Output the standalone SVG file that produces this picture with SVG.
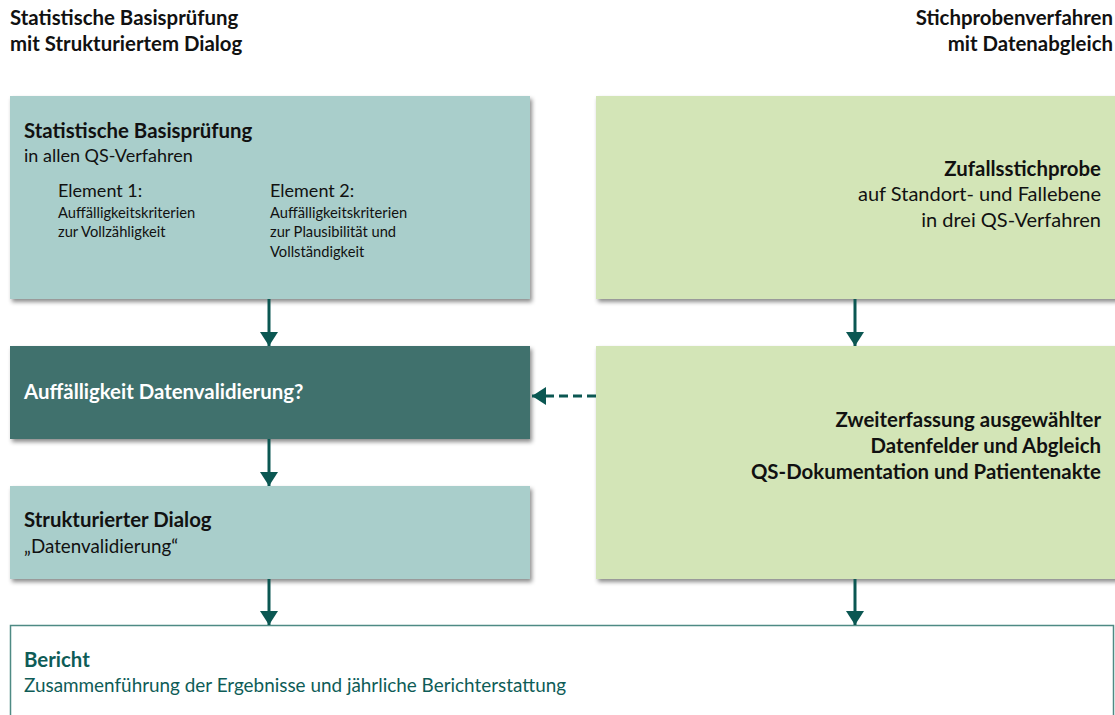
<svg xmlns="http://www.w3.org/2000/svg" width="1115" height="715" viewBox="0 0 1115 715">
  <style>
    text { font-family: Lato, "Liberation Sans", sans-serif; fill: #111; }
    .h { font-size: 20.4px; font-weight: bold; }
    .t { font-size: 20.4px; font-weight: bold; }
    .s { font-size: 18px; }
    .sd { font-size: 18.8px; }
    .sr { font-size: 20px; }
    .sb { font-size: 18.9px; }
    .e { font-size: 18px; }
    .e2 { font-size: 14.7px; }
    .r { text-anchor: end; }
    .w { fill: #fff; }
    .teal { fill: #0E5C57; }
    .light { fill: #A9CECB; }
    .dark { fill: #41716D; }
    .green { fill: #D3E5B7; }
    .conn { stroke: #0B5752; stroke-width: 3; fill: none; }
  </style>
  <defs>
    <filter id="shadow" x="-5%" y="-5%" width="112%" height="120%">
      <feDropShadow dx="2" dy="3" stdDeviation="2" flood-color="#000" flood-opacity="0.45"/>
    </filter>
    <marker id="ah" viewBox="0 0 14 18" refX="14" refY="9" markerWidth="14" markerHeight="18" markerUnits="userSpaceOnUse" orient="auto">
      <path d="M0,0 L14,9 L0,18 Z" fill="#0B5752"/>
    </marker>
  </defs>

  <!-- column headings -->
  <g id="heading-left">
    <text class="h" x="10" y="25">Statistische Basisprüfung</text>
    <text class="h" x="10" y="51">mit Strukturiertem Dialog</text>
  </g>
  <g id="heading-right">
    <text class="h r" x="1113" y="25">Stichprobenverfahren</text>
    <text class="h r" x="1113" y="51">mit Datenabgleich</text>
  </g>

  <!-- left column -->
  <g id="basispruefung">
    <rect class="light" x="10" y="96" width="520" height="203" filter="url(#shadow)"/>
    <text class="t" x="24" y="138">Statistische Basisprüfung</text>
    <text class="s" x="24" y="162">in allen QS-Verfahren</text>
    <text class="e" x="58" y="197">Element 1:</text>
    <text class="e2" x="58" y="218">Auffälligkeitskriterien</text>
    <text class="e2" x="58" y="237">zur Vollzähligkeit</text>
    <text class="e" x="270" y="197">Element 2:</text>
    <text class="e2" x="270" y="218">Auffälligkeitskriterien</text>
    <text class="e2" x="270" y="237">zur Plausibilität und</text>
    <text class="e2" x="270" y="257">Vollständigkeit</text>
  </g>
  <g id="auffaelligkeit">
    <rect class="dark" x="10" y="346" width="520" height="93" filter="url(#shadow)"/>
    <text class="t w" x="24" y="399">Auffälligkeit Datenvalidierung?</text>
  </g>
  <g id="strukturierter-dialog">
    <rect class="light" x="10" y="486" width="520" height="93" filter="url(#shadow)"/>
    <text class="t" x="24" y="527">Strukturierter Dialog</text>
    <text class="sd" x="24" y="553">„Datenvalidierung“</text>
  </g>

  <!-- right column -->
  <g id="zufallsstichprobe">
    <rect class="green" x="596" y="96" width="530" height="203" filter="url(#shadow)"/>
    <text class="t r" x="1101" y="176">Zufallsstichprobe</text>
    <text class="sr r" x="1101" y="201">auf Standort- und Fallebene</text>
    <text class="sr r" x="1101" y="227">in drei QS-Verfahren</text>
  </g>
  <g id="zweiterfassung">
    <rect class="green" x="596" y="346" width="530" height="233" filter="url(#shadow)"/>
    <text class="t r" x="1101" y="427">Zweiterfassung ausgewählter</text>
    <text class="t r" x="1101" y="453">Datenfelder und Abgleich</text>
    <text class="t r" x="1101" y="479">QS-Dokumentation und Patientenakte</text>
  </g>

  <!-- report -->
  <g id="bericht">
    <rect x="10.5" y="625.5" width="1103" height="100" fill="#fff" stroke="#4E8A84" stroke-width="1.5"/>
    <text class="t teal" x="24" y="667">Bericht</text>
    <text class="sb teal" x="24" y="692">Zusammenführung der Ergebnisse und jährliche Berichterstattung</text>
  </g>

  <!-- connectors -->
  <g id="connectors">
    <line class="conn" x1="269" y1="299" x2="269" y2="346" marker-end="url(#ah)"/>
    <line class="conn" x1="269" y1="439" x2="269" y2="486" marker-end="url(#ah)"/>
    <line class="conn" x1="269" y1="579" x2="269" y2="625" marker-end="url(#ah)"/>
    <line class="conn" x1="855" y1="299" x2="855" y2="346" marker-end="url(#ah)"/>
    <line class="conn" x1="855" y1="579" x2="855" y2="625" marker-end="url(#ah)"/>
    <line class="conn" x1="596" y1="396" x2="532" y2="396" stroke-dasharray="9,5" marker-end="url(#ah)"/>
  </g>
</svg>
